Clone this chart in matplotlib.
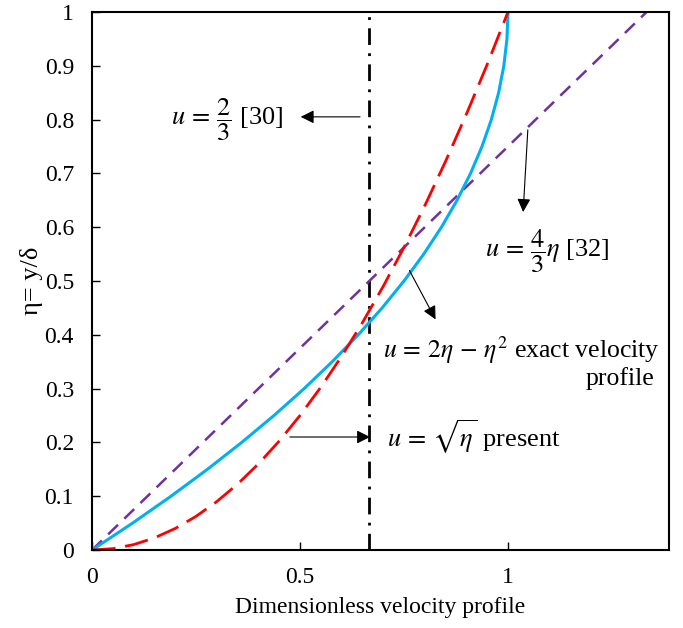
import matplotlib
matplotlib.use("Agg")
import matplotlib.pyplot as plt

plt.rcParams['font.family'] = ['Liberation Serif', 'DejaVu Serif']
plt.rcParams['mathtext.fontset'] = 'stix'

# Exact profile u = 2eta - eta^2
eta_exact = [0, 0.05, 0.1, 0.15, 0.2, 0.25, 0.3, 0.35, 0.4, 0.45, 0.5,
             0.55, 0.6, 0.65, 0.7, 0.75, 0.8, 0.85, 0.9, 0.95, 1.0]
u_exact = [0, 0.0975, 0.19, 0.2775, 0.36, 0.4375, 0.51, 0.5775, 0.64, 0.6975, 0.75,
           0.7975, 0.84, 0.8775, 0.91, 0.9375, 0.96, 0.9775, 0.99, 0.9975, 1.0]

# Present profile u = sqrt(eta)
u_present = [0, 0.05, 0.1, 0.15, 0.2, 0.25, 0.3, 0.35, 0.4, 0.45, 0.5,
             0.55, 0.6, 0.65, 0.7, 0.75, 0.8, 0.85, 0.9, 0.95, 1.0]
eta_present = [0, 0.0025, 0.01, 0.0225, 0.04, 0.0625, 0.09, 0.1225, 0.16, 0.2025, 0.25,
               0.3025, 0.36, 0.4225, 0.49, 0.5625, 0.64, 0.7225, 0.81, 0.9025, 1.0]

# Linear profile u = 4/3 eta [32]
u_linear = [0, 1.3333]
eta_linear = [0, 1.0]

# Uniform profile u = 2/3 [30]
u_uniform = [0.6667, 0.6667]
eta_uniform = [0, 1.0]

x_ticks = [0, 0.5, 1]
x_tick_labels = ['0', '0.5', '1']
y_ticks = [0, 0.1, 0.2, 0.3, 0.4, 0.5, 0.6, 0.7, 0.8, 0.9, 1.0]
y_tick_labels = ['0', '0.1', '0.2', '0.3', '0.4', '0.5', '0.6', '0.7', '0.8', '0.9', '1']

fig = plt.figure(figsize=(6.83, 6.28), dpi=100)
ax = fig.add_axes([0.1347, 0.1242, 0.8448, 0.8568])

ax.plot(u_uniform, eta_uniform, color='black', lw=2.0, linestyle=(0, (6, 3, 1, 3)))
ax.plot(u_linear, eta_linear, color='#7030A0', lw=1.8, linestyle=(0, (5.5, 3.5)))
ax.plot(u_exact, eta_exact, color='#00B0F0', lw=2.2)
ax.plot(u_present, eta_present, color='#FF0000', lw=2.0, linestyle=(0, (8.5, 3.5)))

ax.set_xlim(0, 1.387)
ax.set_ylim(0, 1)
ax.set_xticks(x_ticks)
ax.set_xticklabels(x_tick_labels)
ax.set_yticks(y_ticks)
ax.set_yticklabels(y_tick_labels)
ax.tick_params(direction='in', length=6, width=1.0, labelsize=17)
ax.tick_params(axis='y', pad=13)
ax.tick_params(axis='x', pad=12)
for s in ax.spines.values():
    s.set_linewidth(1.5)

ax.set_xlabel('Dimensionless velocity profile', fontsize=17, labelpad=7)
ax.set_ylabel('η= y/δ', fontsize=19, labelpad=1)

ap = dict(arrowstyle='-|>', color='black', lw=0.8, mutation_scale=20)
tfs = 19

ax.annotate('', xy=(0.495, 0.805), xytext=(0.651, 0.805), arrowprops=ap)
ax.text(0.19, 0.80, r'$u\,=\,\dfrac{2}{3}$ [30]', fontsize=tfs, va='center', ha='left')

ax.annotate('', xy=(1.036, 0.623), xytext=(1.048, 0.786), arrowprops=ap)
ax.text(0.945, 0.555, r'$u\,=\,\dfrac{4}{3}\eta$ [32]', fontsize=tfs, va='center', ha='left')

ax.annotate('', xy=(0.829, 0.424), xytext=(0.76, 0.524), arrowprops=ap)
ax.text(0.70, 0.372, r'$u\,=\,2\eta\,-\,\eta^2$ exact velocity', fontsize=18.5, va='center', ha='left')
ax.text(1.353, 0.318, 'profile', fontsize=18.5, va='center', ha='right')

ax.annotate('', xy=(0.675, 0.21), xytext=(0.469, 0.21), arrowprops=ap)
ax.text(0.709, 0.21, r'$u\,=\,\sqrt{\eta}$ present', fontsize=tfs, va='center', ha='left')

fig.savefig('out.png', dpi=100)
